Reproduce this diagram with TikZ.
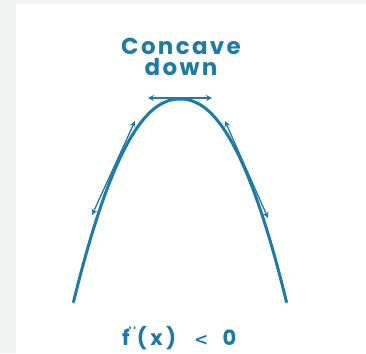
\documentclass[tikz,border=0pt]{standalone}
\usepackage{fontspec}
\setmainfont{Poppins}
\newfontfamily\titlefont{Poppins}[LetterSpace=10]
\newfontfamily\condfont{Poppins}[LetterSpace=16]
\newfontfamily\symfont{DejaVu Sans}
\usetikzlibrary{arrows.meta}
\definecolor{teal1}{HTML}{1F7BA4}
\definecolor{bgg}{HTML}{F1F2F2}
\begin{document}
\begin{tikzpicture}[x=1pt,y=-1pt,
  curve/.style={draw=teal1,line width=3pt,line cap=round},
  tang/.style={draw=teal1,line width=1.3pt,{Stealth[length=6pt,width=6pt]}-{Stealth[length=6pt,width=6pt]}},
  lbl/.style={text=teal1,inner sep=0pt}]
\useasboundingbox (0,0) rectangle (366,353);
\fill[bgg] (0,0) rectangle (366,353);
\fill[white] (16,4) rectangle (366,353);
% concave-down curve
\draw[curve] plot[domain=-106.5:106.5,samples=121,smooth] ({180+\x},{99+203*(abs(\x)/106.5+0.00001)^2.15});
% tangent arrows
\coordinate (tl1) at (148,98);
\coordinate (tl2) at (212,98);
\draw[tang] (tl1) -- (tl2);
\coordinate (la1) at (135,121);
\coordinate (la2) at (92,215);
\draw[tang] (la1) -- (la2);
\coordinate (ra1) at (225,121);
\coordinate (ra2) at (268,218);
\draw[tang] (ra1) -- (ra2);
% labels
\node[lbl,font=\titlefont\bfseries\fontsize{23}{21}\selectfont,align=center,anchor=base] (title) at (181,75) {Concave\\down};
\node[lbl,font=\condfont\bfseries\fontsize{21}{22}\selectfont,anchor=base west] (cond) at (122,345) {\makebox[62pt][l]{f\kern-1pt\raisebox{0.4em}{\fontsize{12}{12}\selectfont''}\kern1pt(x)}\makebox[34pt]{\symfont\fontsize{17}{17}\selectfont <}\makebox[18pt][r]{0}};
\end{tikzpicture}
\end{document}
